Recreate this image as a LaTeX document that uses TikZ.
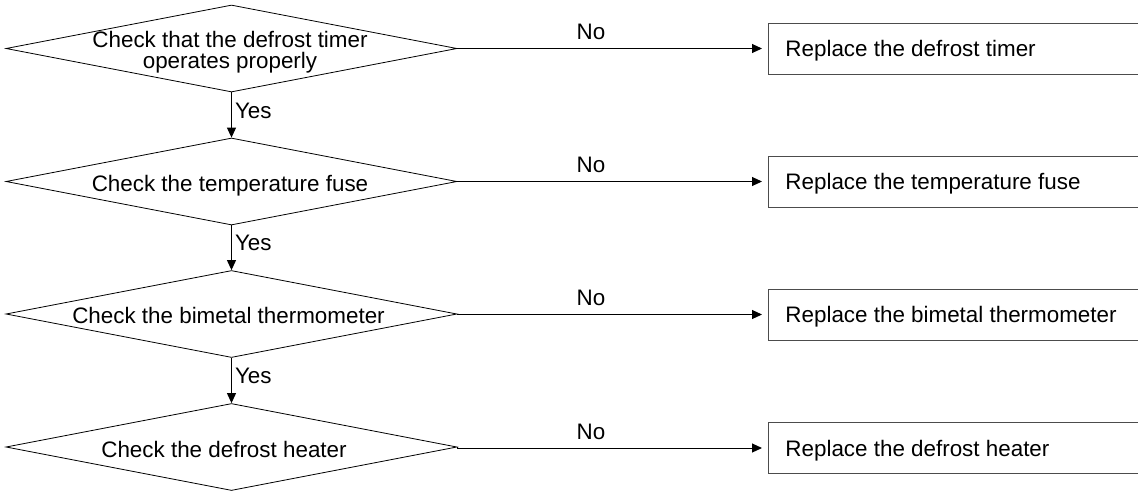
\documentclass[tikz,border=0pt]{standalone}
\usepackage{fontspec}
\setmainfont{Liberation Sans}
\usetikzlibrary{shapes.geometric,arrows.meta}
\begin{document}
\begin{tikzpicture}[x=1pt,y=-1pt,
  every node/.style={font=\fontsize{22.4}{18}\selectfont},
  dia/.style={diamond,draw=black,line width=0.8pt,minimum width=451pt,minimum height=87pt,inner sep=0pt},
  dtext/.style={align=center,inner sep=0pt,font=\fontsize{22.4}{20.5}\selectfont},
  ctext/.style={inner sep=0pt,text height=16pt,text depth=0pt},
  rbox/.style={draw=black!70,line width=0.9pt,anchor=west,minimum height=51pt,minimum width=430pt,inner xsep=17pt,text height=16pt,text depth=0pt},
  arr/.style={draw=black,line width=1pt,-{Triangle[length=10pt,width=9pt]}},
  lbl/.style={inner sep=1pt}
]
\useasboundingbox (0,0) rectangle (1138,491);
% decisions
\node[dia] (d1) at (231.5,48.5) {};
\node[dia] (d2) at (231.5,181.5) {};
\node[dia] (d3) at (231.5,314) {};
\node[dia] (d4) at (231.5,447) {};
\node[dtext] (t1) at (230,52) {Check that the defrost timer\\operates properly};
\node[ctext] (t2) at (230,183) {Check the temperature fuse};
\node[ctext] (t3) at (228.5,315.5) {Check the bimetal thermometer};
\node[ctext] (t4) at (224,449) {Check the defrost heater};
% actions
\node[rbox] (b1) at (768,48.5) {\makebox[396pt][l]{Replace the defrost timer}};
\node[rbox] (b2) at (768,181.5) {\makebox[396pt][l]{Replace the temperature fuse}};
\node[rbox] (b3) at (768,314.5) {\makebox[396pt][l]{Replace the bimetal thermometer}};
\node[rbox] (b4) at (768,448) {\makebox[396pt][l]{Replace the defrost heater}};
% No arrows
\foreach \i in {1,2,3,4}{
  \draw[arr,shorten >=6pt] (d\i.east) -- (b\i.west -| d\i.east) -- (b\i.west)
     node[lbl,pos=0.43,above=7pt] {No};
}
% Yes arrows
\draw[arr] (d1.south) -- (d2.north) node[lbl,pos=0.4,right=2pt] {Yes};
\draw[arr] (d2.south) -- (d3.north) node[lbl,pos=0.4,right=2pt] {Yes};
\draw[arr] (d3.south) -- (d4.north) node[lbl,pos=0.4,right=2pt] {Yes};
\end{tikzpicture}
\end{document}
